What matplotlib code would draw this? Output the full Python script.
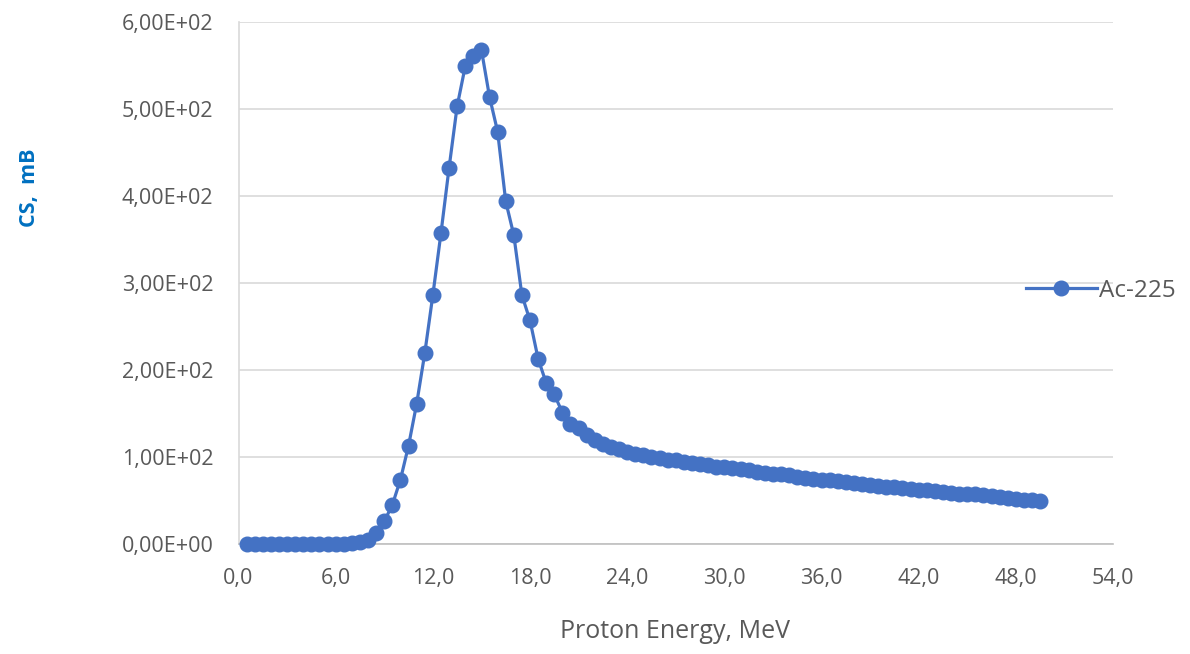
import numpy as np
import matplotlib
matplotlib.use('Agg')
import matplotlib.pyplot as plt
from matplotlib.ticker import FuncFormatter

# Proton energy, MeV (0.5 MeV steps)
energy = np.arange(0.5, 50.0, 0.5)

# Cross section, mB
cs_low = [0.4, 0.4, 0.4, 0.4, 0.4, 0.4, 0.4, 0.4, 0.4, 0.4, 0.4, 0.4, 0.5, 0.6,  # 0.5 - 7.0
          2, 5, 13, 26, 45, 74, 113, 161, 219]                                        # 7.5 - 11.5
cs_peak = [286, 357, 432, 503, 549, 561, 568, 514, 474, 394, 355, 286,             # 12.0 - 17.5
           257, 213, 185, 172, 151, 138, 133, 125]                                   # 18.0 - 21.5
cs_tail = [120, 115, 112, 109, 106, 104, 102, 100, 99, 97, 96, 94, 93, 92, 91, 89,  # 22.0 - 29.5
           88, 87, 86, 85, 83, 82, 81, 80, 79, 77, 76, 75, 74, 73, 72, 71,           # 30.0 - 37.5
           70, 69, 68, 67, 66, 65, 64, 63, 62, 62, 61, 60, 59, 58, 57, 57,           # 38.0 - 45.5
           56, 55, 54, 53, 52, 51, 51, 50]                                           # 46.0 - 49.5
cs = np.array(cs_low + cs_peak + cs_tail, dtype=float)

x_ticks = np.arange(0, 55, 6)
y_ticks = np.arange(0, 700, 100)

blue = '#4472C4'
grey_txt = '#595959'

plt.rcParams['font.family'] = ['Open Sans', 'DejaVu Sans']

fig = plt.figure(figsize=(11.9, 6.54), dpi=100)
ax = fig.add_axes([238.5 / 1190, 1 - 544 / 654, (1113 - 238.5) / 1190, (544 - 22) / 654])

ax.plot(energy, cs, color=blue, lw=2.3, marker='o', ms=10.5, label='Ac-225',
        zorder=3, clip_on=False)

ax.set_xlim(0, 54)
ax.set_ylim(0, 600)
ax.set_xticks(x_ticks)
ax.set_yticks(y_ticks)
ax.xaxis.set_major_formatter(FuncFormatter(lambda v, p: f'{v:.1f}'.replace('.', ',')))


def sci_comma(v, p):
    return f'{v:.2E}'.replace('.', ',')


ax.yaxis.set_major_formatter(FuncFormatter(sci_comma))
ax.tick_params(axis='both', length=0, labelsize=15.5, colors=grey_txt)
ax.tick_params(axis='y', pad=18)
ax.tick_params(axis='x', pad=17)

ax.grid(axis='y', color='#D9D9D9', lw=1.2)
ax.set_axisbelow(True)
for s in ['top', 'right']:
    ax.spines[s].set_visible(False)
ax.spines['left'].set_color('#D9D9D9')
ax.spines['bottom'].set_color('#BFBFBF')
ax.spines['left'].set_linewidth(1.2)
ax.spines['bottom'].set_linewidth(1.2)

fig.text(675 / 1190, 1 - 631 / 654, 'Proton Energy, MeV', ha='center', va='center',
         fontsize=18, color=grey_txt)
fig.text(30 / 1190, 1 - 188 / 654, 'CS,  mB', ha='center', va='center', rotation=90,
         fontsize=15.5, fontweight='bold', color='#0070C0')

fig.legend(loc='center left', bbox_to_anchor=(1014 / 1190, 1 - 291 / 654), frameon=False,
           handlelength=2.9, handletextpad=0.1, borderpad=0, fontsize=17.5,
           labelcolor=grey_txt)

fig.savefig('out.png', dpi=100, facecolor='white')
